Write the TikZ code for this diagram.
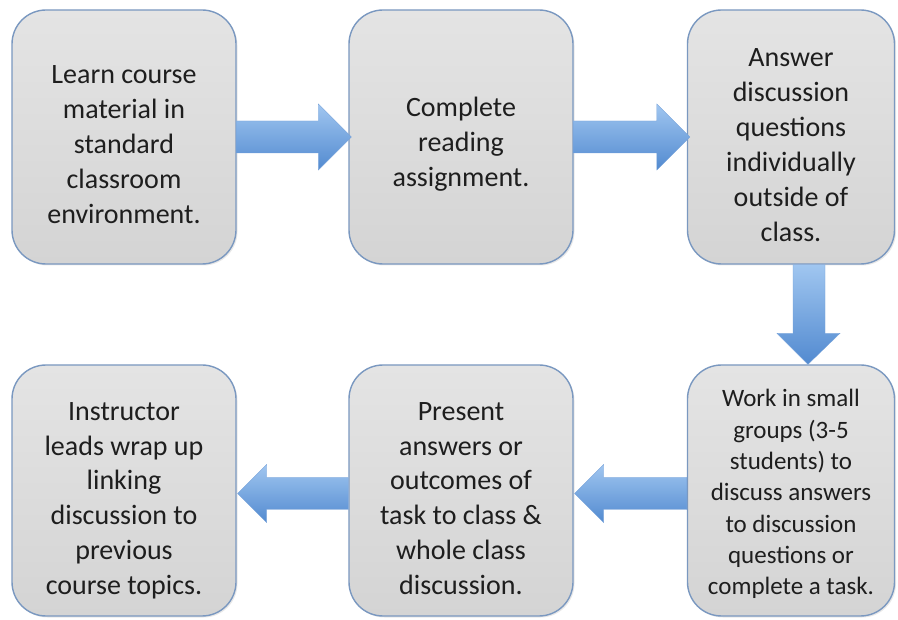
\documentclass[tikz,border=0pt]{standalone}
\usepackage{fontspec}
\setmainfont{Carlito}
\usetikzlibrary{calc,shadows}
\definecolor{boxborder}{RGB}{122,152,192}
\definecolor{boxtop}{RGB}{228,228,228}
\definecolor{boxbot}{RGB}{212,212,212}
\definecolor{arrtop}{RGB}{160,198,240}
\definecolor{arrbot}{RGB}{82,138,208}
\definecolor{txt}{RGB}{30,30,30}
\tikzset{
  stepbox/.style={draw=boxborder, line width=1.4pt, rounded corners=34pt,
    top color=boxtop, bottom color=boxbot, text=txt,
    font=\fontsize{28}{35}\selectfont, inner sep=0pt,
    drop shadow={opacity=0.18, shadow xshift=1.5pt, shadow yshift=-1.5pt}},
  fatarrow/.style={top color=arrtop, bottom color=arrbot, draw=arrbot!80!white, line width=0.3pt}
}
\newcommand{\boxlines}[2]{\raisebox{-#1pt}[\height][\depth]{\begin{tabular}{@{}c@{}}#2\end{tabular}}}
\newcommand{\rightfat}[2]{%
  \path[fatarrow] ($(#1.east)+(0,-16)$) -- ($(#2.west)+(-30,-16)$) -- ($(#2.west)+(-30,-33)$)
    -- ($(#2.west)+(3,0)$) -- ($(#2.west)+(-30,33)$) -- ($(#2.west)+(-30,16)$)
    -- ($(#1.east)+(0,16)$) -- cycle;}
\newcommand{\leftfat}[2]{%
  \path[fatarrow] ($(#1.west)+(0,-13)$) -- ($(#2.east)+(30,-13)$) -- ($(#2.east)+(30,-26)$)
    -- ($(#2.east)+(1,3)$) -- ($(#2.east)+(30,32)$) -- ($(#2.east)+(30,19)$)
    -- ($(#1.west)+(0,19)$) -- cycle;}
\begin{document}
\begin{tikzpicture}[x=1pt,y=-1pt]
\useasboundingbox (0,0) rectangle (898,620);
\fill[white] (0,0) rectangle (898,620);
\node[stepbox, minimum width=224pt, minimum height=254pt] (b1) at (124,137)
  {\boxlines{10}{Learn course\\material in\\standard\\classroom\\environment.}};
\node[stepbox, minimum width=224pt, minimum height=254pt] (b2) at (461,137)
  {\boxlines{8}{Complete\\reading\\assignment.}};
\node[stepbox, minimum width=207pt, minimum height=254pt] (b3) at (791,137)
  {\boxlines{10}{Answer\\discussion\\questions\\individually\\outside of\\class.}};
\node[stepbox, minimum width=224pt, minimum height=251pt] (b4) at (124,490.5)
  {\boxlines{10}{Instructor\\leads wrap up\\linking\\discussion to\\previous\\course topics.}};
\node[stepbox, minimum width=224pt, minimum height=251pt] (b5) at (461,490.5)
  {\boxlines{10}{Present\\answers or\\outcomes of\\task to class \&\\whole class\\discussion.}};
\node[stepbox, minimum width=207pt, minimum height=251pt, font=\fontsize{25}{31.3}\selectfont] (b6) at (791,490.5)
  {\boxlines{4}{Work in small\\groups (3-5\\students) to\\discuss answers\\to discussion\\questions or\\complete a task.}};
\rightfat{b1}{b2}
\rightfat{b2}{b3}
\path[fatarrow] ($(b3.south)+(2,0)$) -- ($(b6.north)+(2,-31)$) -- ($(b6.north)+(-14,-31)$)
  -- ($(b6.north)+(17,0)$) -- ($(b6.north)+(49,-31)$) -- ($(b6.north)+(34,-31)$)
  -- ($(b3.south)+(34,0)$) -- cycle;
\leftfat{b6}{b5}
\leftfat{b5}{b4}
\end{tikzpicture}
\end{document}
